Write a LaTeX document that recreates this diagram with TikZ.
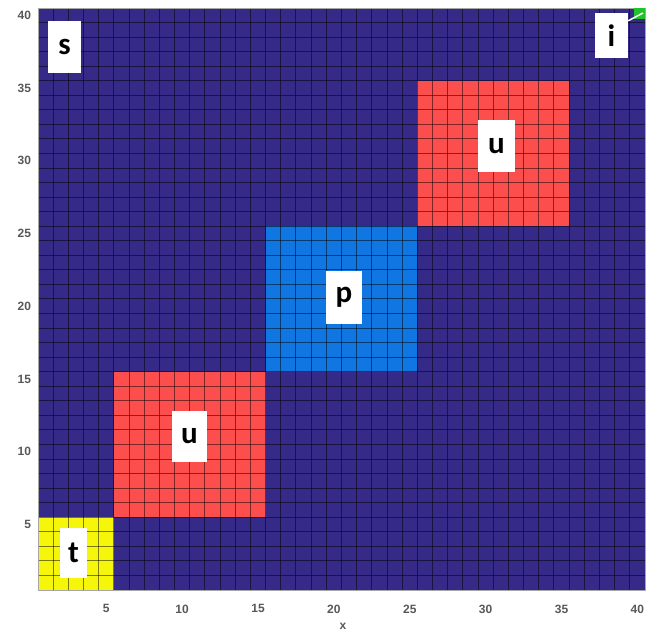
\documentclass[tikz,border=0pt]{standalone}
\usepackage{fontspec}
\setmainfont{Liberation Sans}
\newfontfamily\lblfont{Carlito}
\definecolor{navy}{RGB}{53,42,135}
\definecolor{cellred}{RGB}{252,78,76}
\definecolor{cellblue}{RGB}{16,118,225}
\definecolor{cellyellow}{RGB}{246,246,10}
\definecolor{cellgreen}{RGB}{32,196,40}
\definecolor{ticktext}{RGB}{88,88,88}
\tikzset{
  tagbox/.style={fill=white, draw=none, inner sep=0pt, font=\lblfont\bfseries\fontsize{31}{31}\selectfont, text=black},
  ticklbl/.style={font=\bfseries\fontsize{12}{12}\selectfont, text=ticktext, inner sep=0pt},
  gridline/.style={black, opacity=0.5, line width=1pt}
}
\begin{document}
\begin{tikzpicture}[x=1pt,y=1pt]
\useasboundingbox (0,0) rectangle (648,631);
\begin{scope}[shift={(38,41)}, x=15.175pt, y=14.55pt]
  \fill[navy] (0,0) rectangle (40,40);
  \fill[cellyellow] (0,0) rectangle (5,5);
  \fill[cellred] (5,5) rectangle (15,15);
  \fill[cellblue] (15,15) rectangle (25,25);
  \fill[cellred] (25,25) rectangle (35,35);
  \foreach \k in {1,...,39} {
    \draw[gridline] (\k,0) -- (\k,40);
    \draw[gridline] (0,\k) -- (40,\k);
  }
  \draw[gray!70, line width=0.8pt] (0,0) rectangle (40,40);
  \foreach \k in {5,10,...,40} {
    \node[ticklbl] (xt\k) at (\k-0.5,-1.3) {\k};
    \node[ticklbl, anchor=east] (yt\k) at (-0.45,\k-0.5) {\k};
  }
\end{scope}
% green corner cell
\fill[cellgreen] (634,623) -- (645,623) -- (645,612) -- (634,612) -- cycle;
% labels
\node[tagbox, minimum width=33pt, minimum height=52pt] (s) at (64.5,584) {s};
\node[tagbox, minimum width=33pt, minimum height=45pt] (i) at (611.5,595.5) {i};
\node[tagbox, minimum width=27pt, minimum height=50pt] (t) at (73.5,78) {t};
\node[tagbox, minimum width=35pt, minimum height=51pt] (u1) at (189.5,194.5) {u};
\node[tagbox, minimum width=37pt, minimum height=52pt] (u2) at (496.5,485) {u};
\node[tagbox, minimum width=36pt, minimum height=53pt] (p) at (344,333.5) {p};
\coordinate (gc) at (643,618);
\draw[white, line width=1.5pt] (i.north east) ++(0,-8) -- (gc);
\node[font=\bfseries\fontsize{12}{12}\selectfont, text=ticktext, anchor=base] (xl) at (343,1.5) {x};
\end{tikzpicture}
\end{document}
